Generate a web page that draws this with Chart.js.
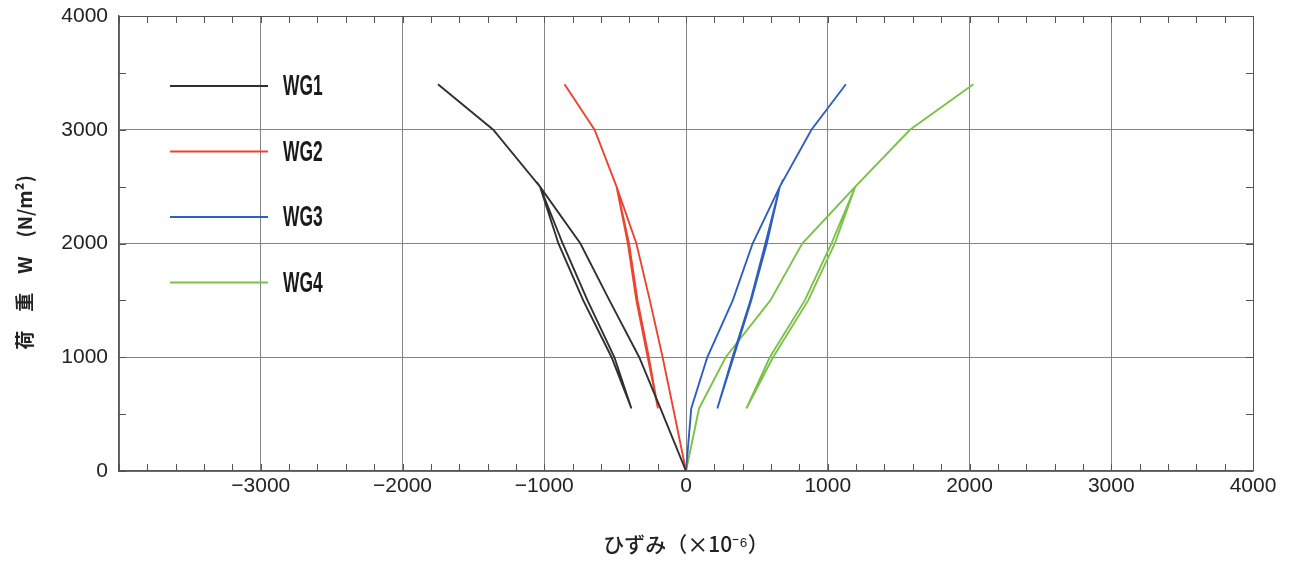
<!DOCTYPE html>
<html>
<head>
<meta charset="utf-8">
<script src="https://cdn.jsdelivr.net/npm/chart.js@4.4.0/dist/chart.umd.min.js"></script>
<style>
  html, body { margin: 0; padding: 0; background: #fff; }
  #wrap { width: 1290px; height: 564px; }
</style>
</head>
<body>
<div id="wrap"><canvas id="strainChart" width="1290" height="564"></canvas></div>
<script>
// load steps (N/m2), shared by all gauges: load, unload, reload
const loadSteps = [0, 550, 1000, 1500, 2000, 2500, 2000, 1500, 1000, 550, 1000, 1500, 2000, 2500, 3000, 3400];

// strain (x10^-6) of each gauge at every load step
const wg1Strain = [0, -180, -330, -540, -745, -1030, -900, -725, -525, -385, -505, -695, -870, -1030, -1360, -1750];
const wg2Strain = [0, -90, -165, -255, -350, -490, -410, -350, -270, -198, -262, -342, -402, -490, -645, -857];
const wg3Strain = [0, 37, 150, 330, 470, 662, 570, 460, 335, 221, 328, 455, 560, 662, 885, 1128];
const wg4Strain = [0, 92, 280, 595, 820, 1195, 1050, 862, 614, 426, 591, 838, 1026, 1195, 1580, 2027];

const seriesNames = ['WG1', 'WG2', 'WG3', 'WG4'];
const seriesColors = ['#303030', '#ec4430', '#2e5fbd', '#7cc24a'];

const xTickLabels = [-3000, -2000, -1000, 0, 1000, 2000, 3000, 4000];
const yTickLabels = [0, 1000, 2000, 3000, 4000];

const toPoints = strain => strain.map((s, i) => ({x: s, y: loadSteps[i]}));

// short inward ticks on all four sides
const minorTicks = {
    id: 'minorTicks',
    afterDatasetsDraw(chart) {
        const {ctx, chartArea: a, scales: {x, y}} = chart;
        ctx.save();
        ctx.strokeStyle = '#555';
        ctx.lineWidth = 1;
        ctx.beginPath();
        x.ticks.forEach(t => {
            const px = Math.round(x.getPixelForValue(t.value)) + 0.5;
            ctx.moveTo(px, a.bottom); ctx.lineTo(px, a.bottom - 7);
            ctx.moveTo(px, a.top); ctx.lineTo(px, a.top + 7);
        });
        y.ticks.forEach(t => {
            const py = Math.round(y.getPixelForValue(t.value)) + 0.5;
            ctx.moveTo(a.left, py); ctx.lineTo(a.left + 7, py);
            ctx.moveTo(a.right, py); ctx.lineTo(a.right - 7, py);
        });
        ctx.stroke();
        ctx.restore();
    }
};

// legend drawn inside the plot, upper left
const insideLegend = {
    id: 'insideLegend',
    afterDatasetsDraw(chart) {
        const {ctx} = chart;
        ctx.save();
        chart.data.datasets.forEach((ds, i) => {
            const ly = 86 + i * 65.5;
            ctx.strokeStyle = ds.borderColor;
            ctx.lineWidth = 2;
            ctx.beginPath();
            ctx.moveTo(170, ly);
            ctx.lineTo(268, ly);
            ctx.stroke();
            ctx.save();
            ctx.translate(283, ly + 1);
            ctx.scale(0.6, 1);
            ctx.fillStyle = '#1a1a1a';
            ctx.font = 'bold 29px "Liberation Sans", Arial, sans-serif';
            ctx.textBaseline = 'middle';
            ctx.fillText(ds.label, 0, 0);
            ctx.restore();
        });
        ctx.restore();
    }
};

const datasets = [wg1Strain, wg2Strain, wg3Strain, wg4Strain].map((s, i) => ({
    label: seriesNames[i],
    data: toPoints(s),
    borderColor: seriesColors[i],
    backgroundColor: seriesColors[i],
    borderWidth: 1.9,
    showLine: true,
    pointRadius: 0,
    tension: 0,
    fill: false
}));

new Chart(document.getElementById('strainChart').getContext('2d'), {
    type: 'scatter',
    data: {datasets},
    options: {
        responsive: false,
        animation: false,
        layout: {padding: {top: 16, right: 37, left: 0, bottom: 0}},
        plugins: {
            legend: {display: false},
            tooltip: {enabled: false}
        },
        scales: {
            x: {
                type: 'linear',
                min: -4000,
                max: 4000,
                afterFit: s => { s.height = 93; s.paddingLeft = 0; s.paddingRight = 0; },
                ticks: {
                    stepSize: 200,
                    autoSkip: false,
                    maxRotation: 0,
                    padding: 3,
                    color: '#222',
                    font: {family: '"Liberation Sans", Arial, sans-serif', size: 21},
                    callback: v => xTickLabels.includes(v) ? (v < 0 ? '\u2212' + Math.abs(v) : String(v)) : ''
                },
                grid: {
                    drawTicks: false,
                    lineWidth: 1,
                    color: c => c.tick && c.tick.value % 1000 === 0 ? (c.tick.value === 4000 ? '#555' : '#848484') : 'rgba(0,0,0,0)'
                },
                border: {display: true, color: '#555', width: 1.5},
                title: {
                    display: true,
                    text: 'ひずみ（×10⁻⁶）',
                    color: '#222',
                    font: {family: '"Noto Sans CJK JP", sans-serif', size: 21, weight: '500'},
                    padding: {top: 0, bottom: 7}
                }
            },
            y: {
                type: 'linear',
                min: 0,
                max: 4000,
                afterFit: s => { s.width = 119; s.paddingTop = 0; s.paddingBottom = 0; },
                ticks: {
                    stepSize: 500,
                    autoSkip: false,
                    padding: 11,
                    color: '#222',
                    font: {family: '"Liberation Sans", Arial, sans-serif', size: 21},
                    callback: v => yTickLabels.includes(v) ? String(v) : ''
                },
                grid: {
                    drawTicks: false,
                    lineWidth: 1,
                    color: c => c.tick && c.tick.value % 1000 === 0 ? (c.tick.value === 4000 ? '#555' : '#848484') : 'rgba(0,0,0,0)'
                },
                border: {display: true, color: '#555', width: 1.5},
                title: {
                    display: true,
                    text: '荷　重　W　(N/m²)　　',
                    color: '#222',
                    font: {family: '"Noto Sans CJK JP", sans-serif', size: 19, weight: 'bold'},
                    padding: {top: 13, bottom: 0}
                }
            }
        }
    },
    plugins: [minorTicks, insideLegend]
});
</script>
</body>
</html>
